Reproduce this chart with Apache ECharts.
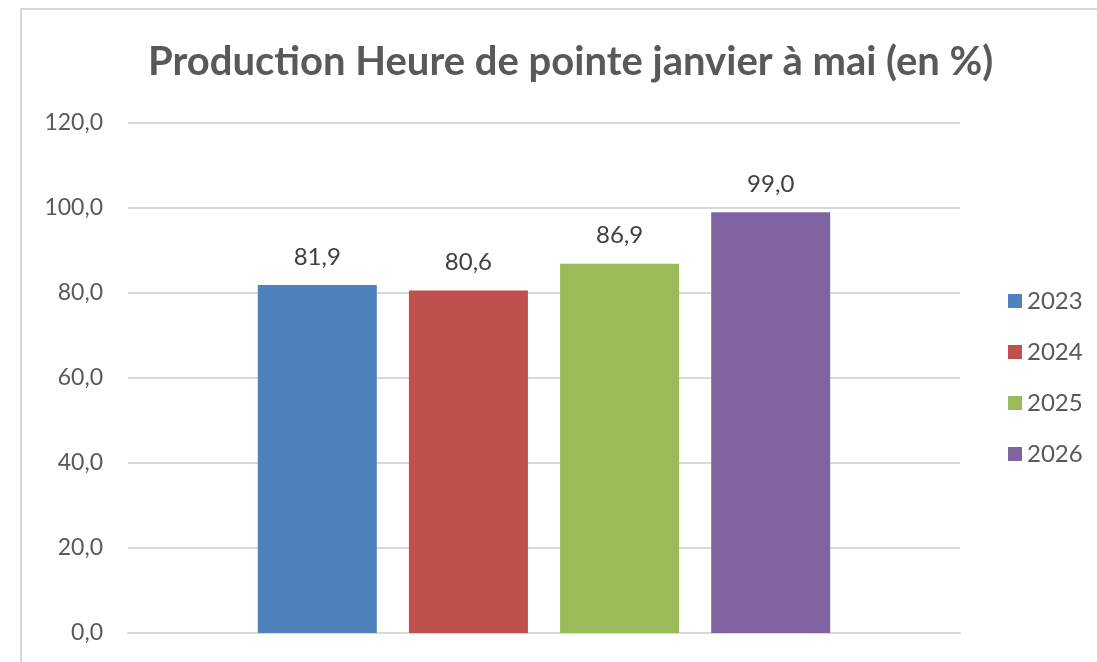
<!DOCTYPE html>
<html>
<head>
	<meta charset="UTF-8">
	<script src="https://cdn.jsdelivr.net/npm/echarts@6/dist/echarts.min.js"></script>
</head>
<body style="margin:0;background:#fff;">
<div id="chart" style="width:1097px;height:662px;"></div>
<script type="text/javascript">
        // données
        var categories = ['janvier-mai']
        var years = ['2023', '2024', '2025', '2026']
        var values = [81.9, 80.6, 86.9, 99.0]
        var colors = ['#4F81BD', '#C0504D', '#9BBB59', '#8064A2']
        var yTicks = [0, 20, 40, 60, 80, 100, 120]

        function fr(v){
            return v.toFixed(1).replace('.', ',')
        }

        var series = []
        for (var i = 0; i < years.length; i++) {
            series.push({
                name: years[i],
                type: 'bar',
                data: [values[i]],
                barWidth: 119,
                barGap: '27%',
                itemStyle: {color: colors[i]},
                label: {
                    show: true,
                    position: 'top',
                    distance: 16,
                    color: '#404040',
                    fontSize: 24,
                    fontFamily: 'Lato',
                    formatter: function(p){ return fr(p.value) }
                }
            })
        }

        var myChart = echarts.init(document.getElementById('chart'))
        var option = {
            animation: false,
            backgroundColor: '#fff',
            title: {
                text: 'Production Heure de pointe janvier à mai (en %)',
                left: 143,
                top: 37,
                textStyle: {
                    color: '#595959',
                    fontSize: 40,
                    fontWeight: 'bold',
                    fontFamily: 'Lato'
                }
            },
            graphic: [{
                type: 'rect',
                shape: {x: 21, y: 9, width: 1200, height: 800},
                style: {fill: 'none', stroke: '#d9d9d9', lineWidth: 2},
                silent: true
            }],
            legend: {
                orient: 'vertical',
                left: 1003,
                top: 284,
                itemWidth: 14,
                itemHeight: 14,
                itemGap: 27,
                icon: 'rect',
                textStyle: {color: '#595959', fontSize: 24, lineHeight: 24, fontFamily: 'Lato'},
                data: years
            },
            grid: {left: 128, right: 137, top: 123, bottom: 29},
            xAxis: {
                type: 'category',
                data: categories,
                axisLine: {lineStyle: {color: '#d9d9d9', width: 2}},
                axisTick: {show: false},
                axisLabel: {show: false}
            },
            yAxis: {
                type: 'value',
                min: yTicks[0],
                max: yTicks[yTicks.length - 1],
                interval: 20,
                axisLine: {show: false},
                axisTick: {show: false},
                splitLine: {lineStyle: {color: '#d9d9d9', width: 2}},
                axisLabel: {
                    color: '#595959',
                    fontSize: 23,
                    fontFamily: 'Lato',
                    margin: 25,
                    formatter: function(v){ return fr(v) }
                }
            },
            series: series
        }
        myChart.setOption(option)
</script>
</body>
</html>
